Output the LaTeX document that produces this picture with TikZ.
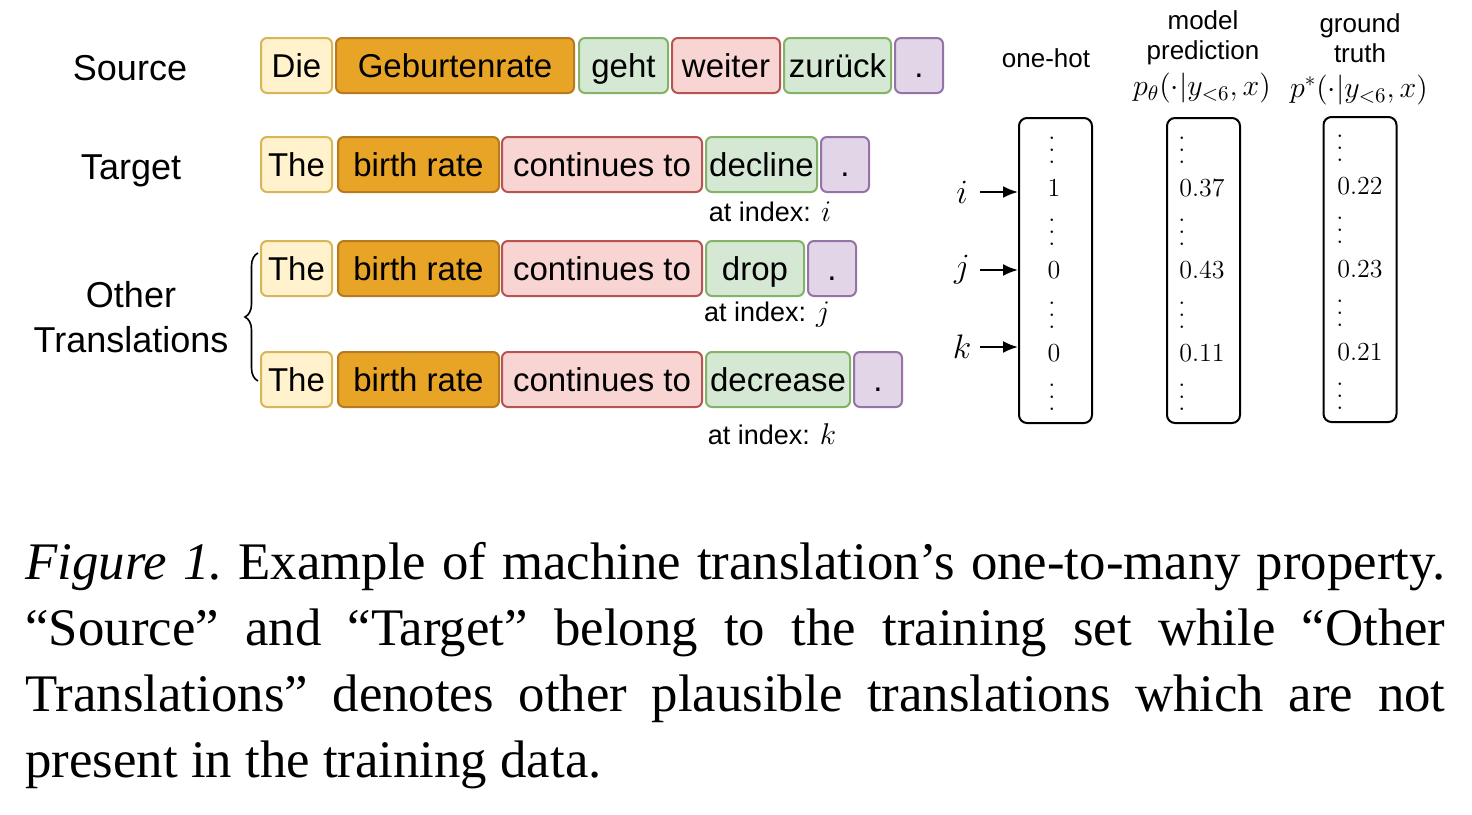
\RequirePackage{fix-cm}
\documentclass[tikz,border=0pt]{standalone}
\usepackage{fontspec}
\setmainfont{Liberation Sans}
\newfontfamily\capfont{Liberation Serif}
\usepackage{xcolor}
\usetikzlibrary{arrows.meta,decorations.pathreplacing}
\definecolor{yelfill}{HTML}{FFF2CC}
\definecolor{yeldraw}{HTML}{D6B656}
\definecolor{orgfill}{HTML}{E8A427}
\definecolor{orgdraw}{HTML}{B8791F}
\definecolor{grnfill}{HTML}{D5E8D4}
\definecolor{grndraw}{HTML}{82B366}
\definecolor{redfill}{HTML}{F8D5D3}
\definecolor{reddraw}{HTML}{B85450}
\definecolor{purfill}{HTML}{E1D5E7}
\definecolor{purdraw}{HTML}{9673A6}
\newcommand{\vdts}{\vbox{\baselineskip=6pt\lineskiplimit=0pt\hbox{$.$}\hbox{$.$}\hbox{$.$}}}

\begin{document}
\begin{tikzpicture}[
    x=0.5pt, y=-0.5pt,
    >={Latex[length=7.5pt,width=6pt]},
    tok/.style={rounded corners=3pt, line width=1pt, minimum height=27.5pt, inner sep=0pt, text height=11.8pt, text depth=0pt, font=\fontsize{16.5pt}{20pt}\selectfont},
    tokyel/.style={tok, draw=yeldraw, fill=yelfill},
    tokorg/.style={tok, draw=orgdraw, fill=orgfill},
    tokgrn/.style={tok, draw=grndraw, fill=grnfill},
    tokred/.style={tok, draw=reddraw, fill=redfill},
    tokpur/.style={tok, draw=purdraw, fill=purfill},
    rowlbl/.style={inner sep=0pt, align=center, font=\fontsize{18pt}{22.5pt}\selectfont},
    idxlbl/.style={inner sep=0pt, font=\fontsize{13.5pt}{16pt}\selectfont},
    hdr/.style={inner sep=0pt, align=center, font=\fontsize{13pt}{15pt}\selectfont},
    mathlbl/.style={inner sep=0pt, font=\fontsize{15pt}{17pt}\selectfont},
    ent/.style={inner sep=0pt, font=\fontsize{13pt}{15pt}\selectfont},
    vecbox/.style={draw=black, line width=1pt, rounded corners=4pt, minimum width=36.5pt, minimum height=152.5pt, inner sep=0pt},
    arr/.style={->, line width=1pt},
    capnode/.style={anchor=north west, inner sep=0pt, text width=710pt, align=justify, font=\capfont\fontsize{26.4pt}{33pt}\selectfont}
]
\useasboundingbox (0,0) rectangle (1472,814);
\fill[white] (0,0) rectangle (1472,814);

% row labels
\node[rowlbl, anchor=base] (lsrc) at (130,80) {Source};
\node[rowlbl, anchor=base] (ltgt) at (131,179) {Target};
\node[rowlbl] (loth) at (131,317) {Other\\Translations};

% source sentence
\node[tokyel, minimum width=35.5pt] (sdie) at (296.5,65.5) {Die};
\node[tokorg, minimum width=119pt] (sgeb) at (455,65.5) {Geburtenrate};
\node[tokgrn, minimum width=44.5pt] (sgeht) at (623.5,65.5) {geht};
\node[tokred, minimum width=54pt] (sweit) at (726,65.5) {weiter};
\node[tokgrn, minimum width=53.5pt] (szur) at (837.5,65.5) {zurück};
\node[tokpur, minimum width=24pt] (sdot) at (919,65.5) {.};

% target sentence
\node[tokyel, minimum width=35.5pt] (tthe) at (296.5,164.5) {The};
\node[tokorg, minimum width=80.5pt] (tbirth) at (418.5,164.5) {birth rate};
\node[tokred, minimum width=100pt] (tcont) at (602,164.5) {continues to};
\node[tokgrn, minimum width=55.5pt] (tdecl) at (761.5,164.5) {decline};
\node[tokpur, minimum width=24pt] (tdot) at (845,164.5) {.};
\node[idxlbl] (ati) at (770,212) {at index: {\fontsize{15pt}{17pt}\selectfont$i$}};

% other translations
\node[tokyel, minimum width=35.5pt] (athe) at (296.5,268.5) {The};
\node[tokorg, minimum width=80.5pt] (abirth) at (418.5,268.5) {birth rate};
\node[tokred, minimum width=100pt] (acont) at (602,268.5) {continues to};
\node[tokgrn, minimum width=49pt] (adrop) at (755,268.5) {drop};
\node[tokpur, minimum width=24pt] (adot) at (832,268.5) {.};
\node[idxlbl] (atj) at (767,315) {at index: {\fontsize{15pt}{17pt}\selectfont$j$}};

\node[tokyel, minimum width=35.5pt] (bthe) at (296.5,379.5) {The};
\node[tokorg, minimum width=80.5pt] (bbirth) at (418.5,379.5) {birth rate};
\node[tokred, minimum width=100pt] (bcont) at (602,379.5) {continues to};
\node[tokgrn, minimum width=72pt] (bdecr) at (778,379.5) {decrease};
\node[tokpur, minimum width=24pt] (bdot) at (878,379.5) {.};
\node[idxlbl] (atk) at (772,434) {at index: {\fontsize{15pt}{17pt}\selectfont$k$}};

\draw[thick, decorate, decoration={brace, amplitude=6.5pt}] (258,381) -- (258,253);

% headers
\node[hdr] (hone) at (1046,58) {one-hot};
\node[hdr] (hmod) at (1203,38) {model\\prediction};
\node[hdr] (hgt) at (1360,38) {ground\\truth};
\node[mathlbl] (fmod) at (1202,88) {$p_\theta(\cdot|y_{<6},x)$};
\node[mathlbl] (fgt) at (1359,90) {$p^*(\cdot|y_{<6},x)$};

% vectors
\node[vecbox] (vone) at (1055.5,270.5) {};
\node[vecbox] (vmod) at (1203.5,270.5) {};
\node[vecbox] (vgt) at (1360,269.5) {};

\node[ent] (o1) at (1052,150) {\vdts};
\node[ent] (o2) at (1054,188) {$1$};
\node[ent] (o3) at (1052,232) {\vdts};
\node[ent] (o4) at (1054,270) {$0$};
\node[ent] (o5) at (1052,315) {\vdts};
\node[ent] (o6) at (1054,353) {$0$};
\node[ent] (o7) at (1052,397) {\vdts};

\node[ent] (m1) at (1182,150) {\vdts};
\node[ent, anchor=west] (m2) at (1179,188) {$0.37$};
\node[ent] (m3) at (1182,232) {\vdts};
\node[ent, anchor=west] (m4) at (1179,270) {$0.43$};
\node[ent] (m5) at (1182,315) {\vdts};
\node[ent, anchor=west] (m6) at (1179,353) {$0.11$};
\node[ent] (m7) at (1182,397) {\vdts};

\node[ent] (g1) at (1340,148) {\vdts};
\node[ent, anchor=west] (g2) at (1337,186) {$0.22$};
\node[ent] (g3) at (1340,230) {\vdts};
\node[ent, anchor=west] (g4) at (1337,269) {$0.23$};
\node[ent] (g5) at (1340,313) {\vdts};
\node[ent, anchor=west] (g6) at (1337,352) {$0.21$};
\node[ent] (g7) at (1340,396) {\vdts};

% index arrows
\node[mathlbl, minimum width=18pt, font=\fontsize{17pt}{19pt}\selectfont] (ii) at (962,192) {$i$};
\node[mathlbl, minimum width=18pt, font=\fontsize{17pt}{19pt}\selectfont] (jj) at (962,270) {$j$};
\node[mathlbl, minimum width=18pt, font=\fontsize{17pt}{19pt}\selectfont] (kk) at (962,347) {$k$};
\draw[arr] (ii) -- (ii -| vone.west);
\draw[arr] (jj) -- (jj -| vone.west);
\draw[arr] (kk) -- (kk -| vone.west);

% caption
\node[capnode] (cap) at (25,542) {\frenchspacing\textit{Figure 1.} Example of machine translation’s one-to-many property.\linebreak “Source” and “Target” belong to the training set while “Other\linebreak Translations” denotes other plausible translations which are not\linebreak present in the training data.};
\end{tikzpicture}
\end{document}
